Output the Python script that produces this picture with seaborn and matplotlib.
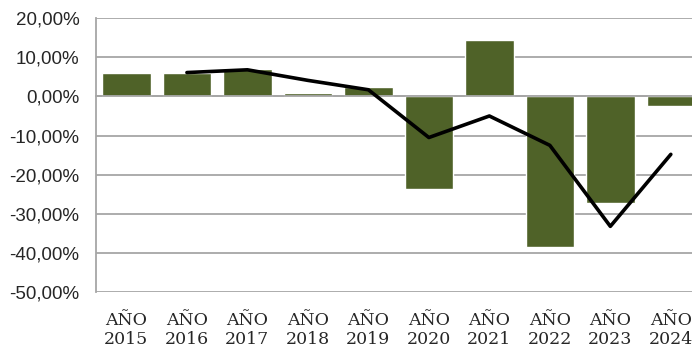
import pandas as pd
import matplotlib
matplotlib.use("Agg")
import matplotlib.pyplot as plt
import numpy as np
import seaborn as sns
from matplotlib.ticker import FuncFormatter, FixedLocator

years = ["2015", "2016", "2017", "2018", "2019", "2020", "2021", "2022", "2023", "2024"]
bar_vals = [6.1, 6.1, 7.0, 0.85, 2.4, -23.7, 14.3, -38.6, -27.3, -2.5]
line_vals = [np.nan, 6.1, 6.8, 4.1, 1.7, -10.5, -5.0, -12.5, -33.2, -14.8]

df = pd.DataFrame({"year": years, "bar": bar_vals, "line": line_vals})
df["pos"] = np.arange(len(df))

sns.set_style("white")
fig = plt.figure(figsize=(6.92, 3.49), dpi=100)
ax = fig.add_axes([0.139, 0.163, 0.861, 0.785])

sns.barplot(data=df, x="pos", y="bar", color="#4f6228", saturation=1, width=0.8,
            native_scale=True, ax=ax, zorder=2)
sns.lineplot(data=df.dropna(), x="pos", y="line", color="black", linewidth=2.6,
             ax=ax, zorder=3)

ax.set_ylim(-50, 20)
ax.set_xlim(-0.5, 9.35)
ax.set_yticks(np.arange(-50, 21, 10))
ax.yaxis.set_major_formatter(FuncFormatter(lambda v, p: f"{v:.2f}%".replace(".", ",")))
ax.grid(axis="y", color="#a6a6a6", linewidth=1.3, zorder=0)
ax.set_axisbelow(True)
ax.tick_params(axis="y", direction="out", length=6, width=1.3, color="#a6a6a6",
               labelsize=13.5, pad=6)
for lab in ax.get_yticklabels():
    lab.set_family("Liberation Sans")
    lab.set_color("#262626")

ax.set_xlabel("")
ax.set_ylabel("")
for s in ["top", "right"]:
    ax.spines[s].set_visible(False)
ax.spines["left"].set_color("#a6a6a6")
ax.spines["left"].set_linewidth(1.3)
ax.spines["bottom"].set_position(("data", 0))
ax.spines["bottom"].set_color("#a6a6a6")
ax.spines["bottom"].set_linewidth(1.3)
ax.xaxis.set_major_locator(FixedLocator(df["pos"].to_numpy()[:-1] + 0.5))
ax.tick_params(axis="x", direction="out", length=4, width=1.0, color="#a6a6a6",
               labelbottom=False)

sec = ax.secondary_xaxis("bottom")
sec.set_xticks(df["pos"], ["AÑO\n" + y for y in years])
sec.spines["bottom"].set_visible(False)
sec.tick_params(length=0, pad=14, labelsize=12.5)
for lab in sec.get_xticklabels():
    lab.set_family("DejaVu Serif")
    lab.set_color("#262626")
    lab.set_linespacing(1.2)

fig.savefig("out.png", dpi=100)
